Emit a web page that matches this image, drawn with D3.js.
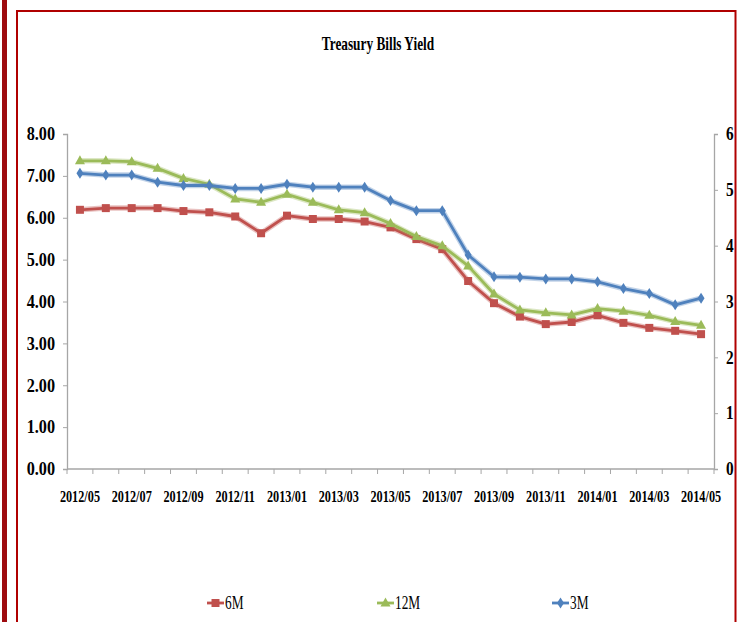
<!DOCTYPE html>
<html><head><meta charset="utf-8">
<script src="https://cdn.jsdelivr.net/npm/d3@7/dist/d3.min.js"></script>
<style>
html,body{margin:0;padding:0;background:#fff;}
svg{display:block;}
</style></head>
<body>
<svg id="chart" width="750" height="622"></svg>
<script>
const categories = ["2012/05","2012/06","2012/07","2012/08","2012/09","2012/10","2012/11","2012/12",
"2013/01","2013/02","2013/03","2013/04","2013/05","2013/06","2013/07","2013/08","2013/09","2013/10",
"2013/11","2013/12","2014/01","2014/02","2014/03","2014/04","2014/05"];
const tickLabels = ["2012/05","2012/07","2012/09","2012/11","2013/01","2013/03","2013/05","2013/07","2013/09","2013/11","2014/01","2014/03","2014/05"];
const leftTicks = [0,1,2,3,4,5,6,7,8];
const rightTicks = [0,1,2,3,4,5,6];
const series6M = [6.19,6.23,6.23,6.23,6.16,6.13,6.03,5.63,6.05,5.97,5.97,5.91,5.77,5.49,5.25,4.49,3.96,3.64,3.46,3.51,3.67,3.49,3.37,3.30,3.22];
const series12M = [7.36,7.36,7.34,7.18,6.94,6.80,6.45,6.37,6.56,6.37,6.19,6.12,5.86,5.55,5.33,4.85,4.18,3.80,3.73,3.68,3.83,3.77,3.67,3.52,3.43];
const series3M = [7.06,7.02,7.02,6.85,6.77,6.77,6.70,6.70,6.80,6.73,6.73,6.73,6.41,6.17,6.17,5.11,4.59,4.58,4.54,4.54,4.47,4.31,4.19,3.92,4.08];
const seriesNames = ["6M","12M","3M"];
const title = "Treasury Bills Yield";

const colors = {"6M":"#c0504d","12M":"#9bbb59","3M":"#4f81bd"};
const svg = d3.select("#chart");
const FONT = "'Liberation Serif','DejaVu Serif',serif";

function condense(sel, f){
  sel.each(function(){
    const l = this.getComputedTextLength();
    d3.select(this).attr("textLength", l*f).attr("lengthAdjust","spacingAndGlyphs");
  });
}

// frames
svg.append("rect").attr("x",2).attr("y",0).attr("width",5).attr("height",622).attr("fill","#9e0b0f");
svg.append("path").attr("d","M17,622 V11 H735.5 V622").attr("fill","none").attr("stroke","#b00000").attr("stroke-width",2);

const L = 67, R = 714, T = 134, B = 469;
const x = d3.scaleBand().domain(categories).range([L,R]);
const y = d3.scaleLinear().domain([0,8]).range([B,T]);
const y2 = d3.scaleLinear().domain([0,6]).range([B,T]);
const cx = c => x(c) + x.bandwidth()/2;

// title
const t = svg.append("text").attr("x",378).attr("y",50).attr("text-anchor","middle")
  .attr("font-family",FONT).attr("font-weight","bold").attr("font-size",19).attr("fill","#000").text(title);
condense(t,0.7);

// left axis
const gl = svg.append("g").attr("transform",`translate(${L},0)`)
  .call(d3.axisLeft(y).tickValues(leftTicks).tickFormat(d3.format(".2f")).tickSize(4).tickPadding(8));
// right axis
const gr = svg.append("g").attr("transform",`translate(${R},0)`)
  .call(d3.axisRight(y2).tickValues(rightTicks).tickFormat(d3.format("d")).tickSize(4).tickPadding(8));
// x axis
const gx = svg.append("g").attr("transform",`translate(0,${B})`)
  .call(d3.axisBottom(x).tickValues(tickLabels).tickSize(0).tickPadding(21));
// boundary ticks
svg.append("g").selectAll("line").data(d3.range(categories.length+1)).join("line")
  .attr("x1",i=>L+i*x.step()).attr("x2",i=>L+i*x.step()).attr("y1",B).attr("y2",B+5)
  .attr("stroke","#a6a6a6").attr("stroke-width",1);

[gl,gr,gx].forEach(g=>{
  g.select(".domain").attr("stroke","#a6a6a6").attr("stroke-width",1.3);
  g.selectAll(".tick line").attr("stroke","#a6a6a6");
  g.selectAll("text").attr("font-family",FONT).attr("font-weight","bold").attr("font-size",18).attr("fill","#000");
});
gx.selectAll("text").attr("font-size",17);
gx.select(".domain").attr("d",`M${L},0H${R}`);
condense(gl.selectAll("text"),0.9);
condense(gr.selectAll("text"),0.85);
condense(gx.selectAll("text"),0.72);

// lines
const data = {"6M":series6M,"12M":series12M,"3M":series3M};
const line = d3.line().x((d,i)=>cx(categories[i])).y(d=>y(d));
const drawOrder = ["6M","12M","3M"];
function marker(g, name, px, py){
  if(name==="3M"){
    g.append("path").attr("d",`M${px},${py-5.5}L${px+3.5},${py}L${px},${py+5.5}L${px-3.5},${py}Z`).attr("fill",colors[name]);
  } else if(name==="12M"){
    g.append("path").attr("d",`M${px},${py-5.5}L${px+5},${py+3.5}L${px-5},${py+3.5}Z`).attr("fill",colors[name]);
  } else {
    g.append("path").attr("d",d3.symbol().type(d3.symbolSquare).size(64)()).attr("transform",`translate(${px},${py})`).attr("fill",colors[name]);
  }
}
drawOrder.forEach(name=>{
  const g = svg.append("g");
  g.append("path").datum(data[name]).attr("d",line).attr("fill","none")
    .attr("stroke",colors[name]).attr("stroke-opacity",0.35).attr("stroke-width",5.5).attr("stroke-linejoin","round");
  g.append("path").datum(data[name]).attr("d",line).attr("fill","none")
    .attr("stroke",colors[name]).attr("stroke-width",2.8).attr("stroke-linejoin","round");
  data[name].forEach((v,i)=>marker(g,name,cx(categories[i]),y(v)));
});

// legend
const legendX = {"6M":207,"12M":377,"3M":552};
seriesNames.forEach(name=>{
  const g = svg.append("g");
  const lx = legendX[name], ly = 603;
  g.append("line").attr("x1",lx).attr("x2",lx+17).attr("y1",ly).attr("y2",ly).attr("stroke",colors[name]).attr("stroke-width",2.8);
  marker(g,name,lx+8.5,ly);
  const tx = g.append("text").attr("x",lx+18).attr("y",ly+6).attr("font-family",FONT).attr("font-size",18).attr("fill","#000").text(name);
  condense(tx,0.74);
});
</script>
</body></html>
